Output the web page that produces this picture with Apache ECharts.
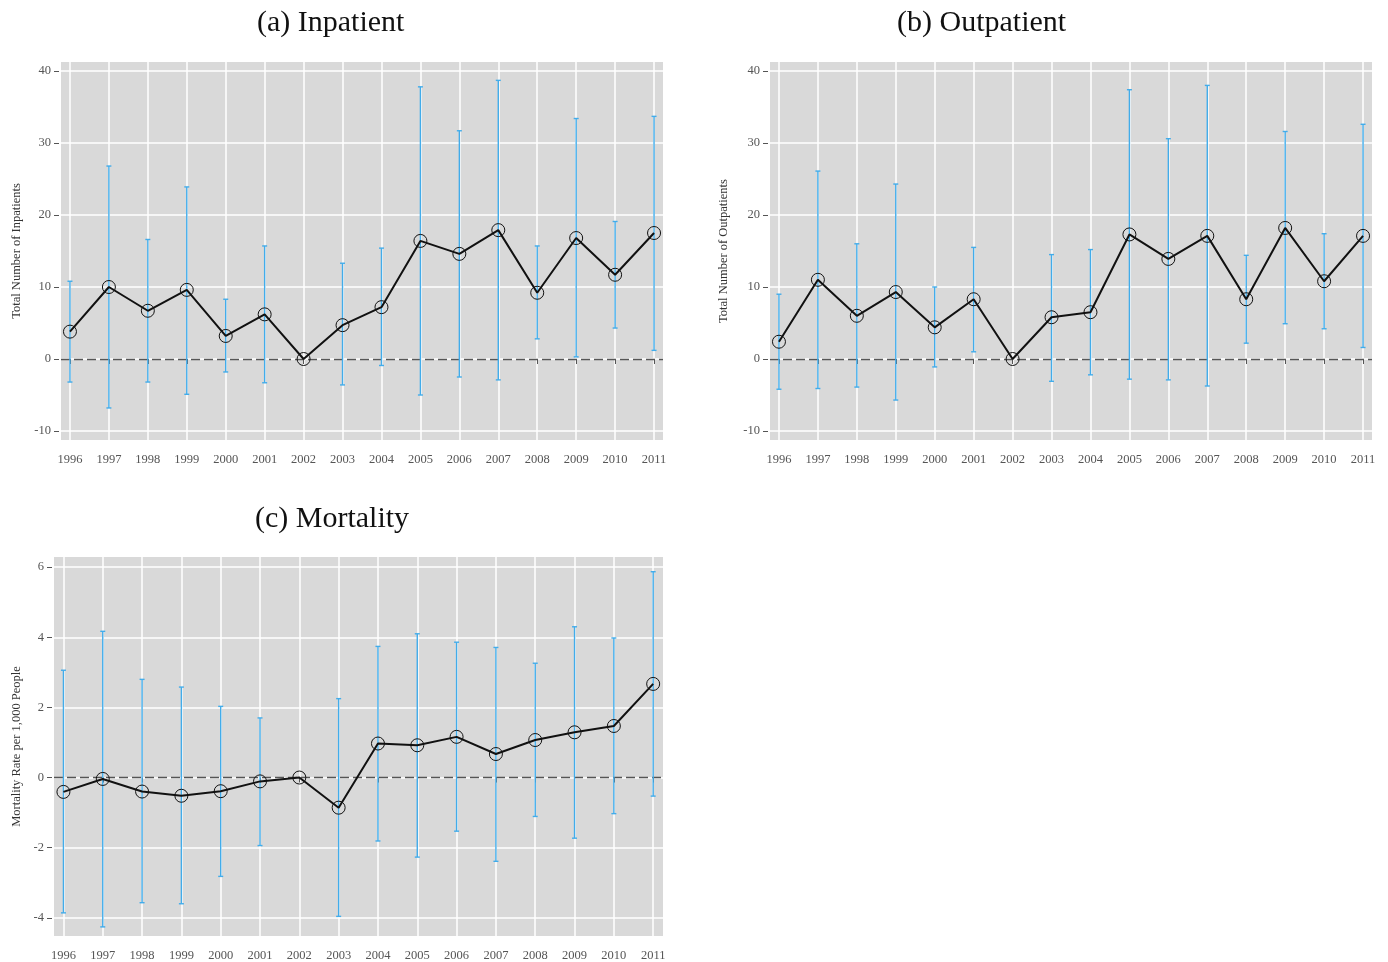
<!DOCTYPE html>
<html>
<head>
<meta charset="utf-8">
<title>Inpatient / Outpatient / Mortality</title>
<script src="https://cdn.jsdelivr.net/npm/echarts@6/dist/echarts.min.js"></script>
<style>
  html, body { margin: 0; padding: 0; background: #fff; }
  #chart { width: 1388px; height: 962px; }
</style>
</head>
<body>
<div id="chart"></div>
<script>
const years = [1996, 1997, 1998, 1999, 2000, 2001, 2002, 2003, 2004, 2005, 2006, 2007, 2008, 2009, 2010, 2011];

// (a) inpatients: point estimate and 95% CI (2002 is the reference year)
const inpatientMean = [3.8, 10.0, 6.7, 9.6, 3.2, 6.2, 0, 4.7, 7.2, 16.4, 14.6, 17.9, 9.2, 16.8, 11.7, 17.5];
const inpatientLow = [-3.2, -6.8, -3.2, -4.9, -1.8, -3.3, null, -3.6, -0.9, -5.0, -2.5, -2.9, 2.8, 0.3, 4.3, 1.2];
const inpatientHigh = [10.8, 26.8, 16.6, 23.9, 8.3, 15.7, null, 13.3, 15.4, 37.8, 31.7, 38.7, 15.7, 33.4, 19.1, 33.7];

// (b) outpatients
const outpatientMean = [2.4, 11.0, 6.0, 9.3, 4.4, 8.3, 0, 5.8, 6.5, 17.3, 13.9, 17.1, 8.3, 18.2, 10.8, 17.1];
const outpatientLow = [-4.2, -4.1, -3.9, -5.7, -1.1, 1.0, null, -3.1, -2.2, -2.8, -2.9, -3.75, 2.2, 4.9, 4.2, 1.6];
const outpatientHigh = [9.0, 26.1, 16.0, 24.3, 10.0, 15.5, null, 14.5, 15.2, 37.4, 30.6, 38.0, 14.4, 31.6, 17.4, 32.6];

// (c) mortality
const mortalityMean = [-0.41, -0.04, -0.40, -0.52, -0.39, -0.11, 0, -0.86, 0.97, 0.92, 1.16, 0.67, 1.07, 1.29, 1.47, 2.67];
const mortalityLow = [-3.86, -4.26, -3.57, -3.6, -2.82, -1.94, null, -3.96, -1.81, -2.27, -1.53, -2.39, -1.11, -1.73, -1.03, -0.53];
const mortalityHigh = [3.06, 4.17, 2.8, 2.58, 2.03, 1.70, null, 2.25, 3.74, 4.10, 3.86, 3.71, 3.26, 4.30, 3.98, 5.87];

const countTicks = [-10, 0, 10, 20, 30, 40];
const rateTicks = [-4, -2, 0, 2, 4, 6];

const serif = '"Liberation Serif", "Times New Roman", serif';
const tickColor = '#555';
const barColor = '#42acea';

const chart = echarts.init(document.getElementById('chart'));

function xAxisFor(gridIndex, min, max) {
  return {
    type: 'value',
    gridIndex: gridIndex,
    min: min,
    max: max,
    offset: 2,
    axisLine: { show: false },
    axisTick: { show: true, length: 5, customValues: years, lineStyle: { color: tickColor, width: 1 } },
    axisLabel: {
      customValues: years,
      color: tickColor,
      fontFamily: serif,
      fontSize: 12.5,
      margin: 11,
      formatter: (v) => String(v),
    },
    splitLine: { show: true, lineStyle: { color: '#fff', width: 1.5 } },
  };
}

function yAxisFor(gridIndex, min, max, ticks, name, nameGap) {
  return {
    type: 'value',
    gridIndex: gridIndex,
    min: min,
    max: max,
    offset: 2,
    name: name,
    nameLocation: 'middle',
    nameGap: nameGap,
    nameTextStyle: { fontFamily: serif, fontSize: 12.5, color: '#333' },
    axisLine: { show: false },
    axisTick: { show: true, length: 5, customValues: ticks, lineStyle: { color: tickColor, width: 1 } },
    axisLabel: {
      customValues: ticks,
      color: tickColor,
      fontFamily: serif,
      fontSize: 12.5,
      margin: 8,
      formatter: (v) => String(v),
    },
    splitLine: { show: true, lineStyle: { color: '#fff', width: 1.5 } },
  };
}

// vertical CI bar with small caps
function errorBar(params, api) {
  const top = api.coord([api.value(0), api.value(2)]);
  const bot = api.coord([api.value(0), api.value(1)]);
  const cap = 2.5;
  const style = { stroke: barColor, lineWidth: 1.4 };
  return {
    type: 'group',
    children: [
      { type: 'line', shape: { x1: top[0], y1: top[1], x2: bot[0], y2: bot[1] }, style: style },
      { type: 'line', shape: { x1: top[0] - cap, y1: top[1], x2: top[0] + cap, y2: top[1] }, style: style },
      { type: 'line', shape: { x1: bot[0] - cap, y1: bot[1], x2: bot[0] + cap, y2: bot[1] }, style: style },
    ],
  };
}

function ciData(low, high) {
  const out = [];
  years.forEach((y, i) => {
    if (low[i] !== null && high[i] !== null) out.push([y, low[i], high[i]]);
  });
  return out;
}

function panelSeries(idx, mean, low, high) {
  return [
    {
      type: 'custom',
      xAxisIndex: idx,
      yAxisIndex: idx,
      renderItem: errorBar,
      data: ciData(low, high),
      z: 2,
      silent: true,
    },
    {
      type: 'line',
      xAxisIndex: idx,
      yAxisIndex: idx,
      data: years.map((y, i) => [y, mean[i]]),
      symbol: 'circle',
      symbolSize: 13,
      itemStyle: { color: 'rgba(0,0,0,0)', borderColor: '#111', borderWidth: 1 },
      lineStyle: { color: '#111', width: 2 },
      z: 3,
      silent: true,
      markLine: {
        silent: true,
        symbol: 'none',
        label: { show: false },
        lineStyle: { color: '#555', width: 1.3, type: [9, 4] },
        data: [{ yAxis: 0 }],
        z: 1,
      },
    },
  ];
}

const titleStyle = { fontFamily: serif, fontSize: 30, fontWeight: 'normal', color: '#111' };

const option = {
  animation: false,
  backgroundColor: '#fff',
  title: [
    { text: '(a) Inpatient', left: 257, top: 8, padding: 0, textStyle: titleStyle },
    { text: '(b) Outpatient', left: 897, top: 8, padding: 0, textStyle: titleStyle },
    { text: '(c) Mortality', left: 255, top: 504, padding: 0, textStyle: titleStyle },
  ],
  grid: [
    { left: 61, top: 62, width: 602, height: 378, show: true, backgroundColor: '#d9d9d9', borderWidth: 0 },
    { left: 770, top: 62, width: 602, height: 378, show: true, backgroundColor: '#d9d9d9', borderWidth: 0 },
    { left: 54, top: 557, width: 609, height: 379, show: true, backgroundColor: '#d9d9d9', borderWidth: 0 },
  ],
  xAxis: [
    xAxisFor(0, 1995.77, 2011.23),
    xAxisFor(1, 1995.77, 2011.23),
    xAxisFor(2, 1995.76, 2011.25),
  ],
  yAxis: [
    yAxisFor(0, -11.25, 41.25, countTicks, 'Total Number of Inpatients', 36),
    yAxisFor(1, -11.25, 41.25, countTicks, 'Total Number of Outpatients', 38),
    yAxisFor(2, -4.52, 6.29, rateTicks, 'Mortality Rate per 1,000 People', 29),
  ],
  series: [
    ...panelSeries(0, inpatientMean, inpatientLow, inpatientHigh),
    ...panelSeries(1, outpatientMean, outpatientLow, outpatientHigh),
    ...panelSeries(2, mortalityMean, mortalityLow, mortalityHigh),
  ],
};

chart.setOption(option);
</script>
</body>
</html>
